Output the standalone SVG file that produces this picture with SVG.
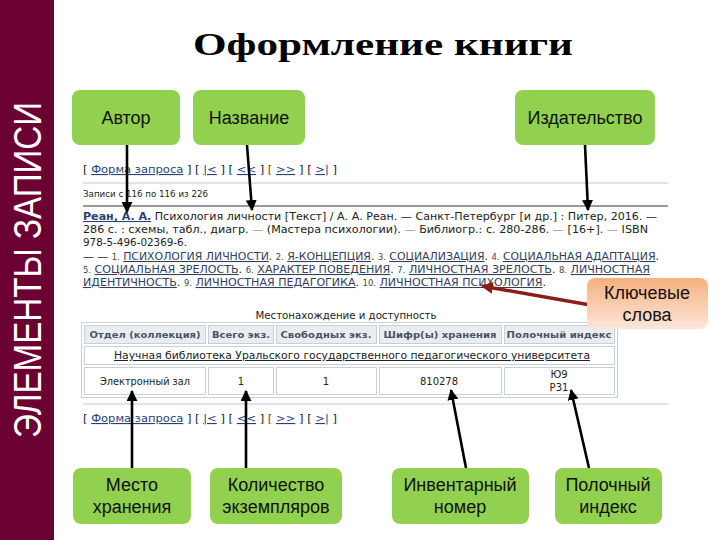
<svg xmlns="http://www.w3.org/2000/svg" width="720" height="540" viewBox="0 0 720 540">
<defs>
<style>
.box{fill:#92d050;}
.bt{font-family:"Liberation Sans",Arial,sans-serif;font-size:18px;fill:#111;text-anchor:middle;}
.sc{font-family:"DejaVu Sans",Verdana,sans-serif;fill:#222;}
.lk{fill:#2b3f78;text-decoration:underline;}
.sl{fill:#333d5c;text-decoration:underline;}
.num{font-size:8px;fill:#444;}
.hd{font-family:"DejaVu Sans",Verdana,sans-serif;font-weight:bold;font-size:9.5px;fill:#4a5363;text-anchor:middle;}
.hc{fill:#e9edf1;stroke:#c9cfd6;stroke-width:1;}
.cc{fill:#fff;stroke:#c9cfd6;stroke-width:1;}
.ct{font-family:"DejaVu Sans",Verdana,sans-serif;font-size:10px;fill:#222;text-anchor:middle;}
.con{stroke:#000;stroke-width:2.6;fill:none;}
</style>
<marker id="ah" viewBox="0 0 10 10" refX="9" refY="5" markerWidth="11" markerHeight="11" markerUnits="userSpaceOnUse" orient="auto"><path d="M0,0 L10,5 L0,10 z" fill="#000"/></marker>
<marker id="ahr" viewBox="0 0 10 10" refX="9" refY="5" markerWidth="12" markerHeight="12" markerUnits="userSpaceOnUse" orient="auto"><path d="M0,0 L10,5 L0,10 z" fill="#8b1c1c"/></marker>
<linearGradient id="og" x1="0" y1="0" x2="0" y2="1"><stop offset="0" stop-color="#f7b07e"/><stop offset="1" stop-color="#fde6da"/></linearGradient>
</defs>
<rect x="0" y="0" width="720" height="540" fill="#fff"/>
<g id="sidebar">
<rect x="0" y="0" width="54" height="540" fill="#6b0033"/>
<text transform="translate(41,270) rotate(-90)" font-family="Liberation Sans,Arial,sans-serif" font-size="38" fill="#fff" text-anchor="middle" textLength="336" lengthAdjust="spacingAndGlyphs">ЭЛЕМЕНТЫ ЗАПИСИ</text>
</g>
<g id="title"><text x="383" y="55" font-family="Liberation Serif,serif" font-weight="bold" font-size="32" fill="#000" text-anchor="middle" textLength="380" lengthAdjust="spacingAndGlyphs">Оформление книги</text></g>
<g id="screenshot">
<text class="sc" x="83" y="173" font-size="11" textLength="254" lengthAdjust="spacingAndGlyphs">[ <tspan class="lk">Форма запроса</tspan> ] [ <tspan class="lk">|&lt;</tspan> ] [ <tspan class="lk">&lt;&lt;</tspan> ] <tspan fill="#a03020">[</tspan> <tspan class="lk">&gt;&gt;</tspan> ] [ <tspan class="lk">&gt;|</tspan> ]</text>
<line x1="83" y1="183" x2="668" y2="183" stroke="#c8c8c8" stroke-width="1"/>
<text class="sc" x="83" y="197" font-size="8.5" fill="#555" textLength="125" lengthAdjust="spacingAndGlyphs">Записи с 116 по 116 из 226</text>
<line x1="83" y1="206" x2="668" y2="206" stroke="#9a9a9a" stroke-width="2"/>
<text class="sc" x="83" y="220" font-size="10.5" textLength="574" lengthAdjust="spacingAndGlyphs"><tspan class="lk" font-weight="bold">Реан, А. А.</tspan> Психология личности [Текст] / А. А. Реан. — Санкт-Петербург [и др.] : Питер, 2016. —</text>
<text class="sc" x="83" y="233" font-size="10.5" textLength="565" lengthAdjust="spacingAndGlyphs">286 с. : схемы, табл., диагр. <tspan fill="#999">—</tspan> (Мастера психологии). <tspan fill="#999">—</tspan> Библиогр.: с. 280-286. <tspan fill="#999">—</tspan> [16+]. <tspan fill="#999">—</tspan> ISBN</text>
<text class="sc" x="83" y="246" font-size="10.5" textLength="104" lengthAdjust="spacingAndGlyphs">978-5-496-02369-6.</text>
<text class="sc" x="83" y="260" font-size="10.5" textLength="576" lengthAdjust="spacingAndGlyphs">— — <tspan class="num">1.</tspan> <tspan class="sl">ПСИХОЛОГИЯ ЛИЧНОСТИ</tspan>. <tspan class="num">2.</tspan> <tspan class="sl">Я-КОНЦЕПЦИЯ</tspan>. <tspan class="num">3.</tspan> <tspan class="sl">СОЦИАЛИЗАЦИЯ</tspan>. <tspan class="num">4.</tspan> <tspan class="sl">СОЦИАЛЬНАЯ АДАПТАЦИЯ</tspan>.</text>
<text class="sc" x="83" y="273" font-size="10.5" textLength="567" lengthAdjust="spacingAndGlyphs"><tspan class="num">5.</tspan> <tspan class="sl">СОЦИАЛЬНАЯ ЗРЕЛОСТЬ</tspan>. <tspan class="num">6.</tspan> <tspan class="sl">ХАРАКТЕР ПОВЕДЕНИЯ</tspan>. <tspan class="num">7.</tspan> <tspan class="sl">ЛИЧНОСТНАЯ ЗРЕЛОСТЬ</tspan>. <tspan class="num">8.</tspan> <tspan class="sl">ЛИЧНОСТНАЯ</tspan></text>
<text class="sc" x="83" y="286" font-size="10.5" textLength="463" lengthAdjust="spacingAndGlyphs"><tspan class="sl">ИДЕНТИЧНОСТЬ</tspan>. <tspan class="num">9.</tspan> <tspan class="sl">ЛИЧНОСТНАЯ ПЕДАГОГИКА</tspan>. <tspan class="num">10.</tspan> <tspan class="sl">ЛИЧНОСТНАЯ ПСИХОЛОГИЯ</tspan>.</text>
<text class="sc" x="346" y="319" font-size="10" text-anchor="middle" textLength="181" lengthAdjust="spacingAndGlyphs">Местонахождение и доступность</text>
<rect x="81.5" y="322.5" width="536" height="75" fill="#fff" stroke="#c9cfd6"/>
<rect class="hc" x="84.5" y="325.5" width="121" height="18"/>
<rect class="hc" x="208.5" y="325.5" width="65" height="18"/>
<rect class="hc" x="276.5" y="325.5" width="100" height="18"/>
<rect class="hc" x="379.5" y="325.5" width="122" height="18"/>
<rect class="hc" x="504.5" y="325.5" width="110" height="18"/>
<text class="hd" x="145" y="338" textLength="111" lengthAdjust="spacingAndGlyphs">Отдел (коллекция)</text>
<text class="hd" x="241" y="338" textLength="58" lengthAdjust="spacingAndGlyphs">Всего экз.</text>
<text class="hd" x="326" y="338" textLength="91" lengthAdjust="spacingAndGlyphs">Свободных экз.</text>
<text class="hd" x="440" y="338" textLength="113" lengthAdjust="spacingAndGlyphs">Шифр(ы) хранения</text>
<text class="hd" x="559" y="338" textLength="105" lengthAdjust="spacingAndGlyphs">Полочный индекс</text>
<rect class="cc" x="84.5" y="346.5" width="530" height="18"/>
<text class="ct" x="352" y="359" fill="#444" text-decoration="underline" textLength="476" lengthAdjust="spacingAndGlyphs">Научная библиотека Уральского государственного педагогического университета</text>
<rect class="cc" x="84.5" y="367.5" width="121" height="27"/>
<rect class="cc" x="208.5" y="367.5" width="65" height="27"/>
<rect class="cc" x="276.5" y="367.5" width="100" height="27"/>
<rect class="cc" x="379.5" y="367.5" width="122" height="27"/>
<rect class="cc" x="504.5" y="367.5" width="110" height="27"/>
<text class="ct" x="145" y="385" textLength="90" lengthAdjust="spacingAndGlyphs">Электронный зал</text>
<text class="ct" x="241" y="385">1</text>
<text class="ct" x="326" y="385">1</text>
<text class="ct" x="439" y="385">810278</text>
<text class="ct" x="559" y="378">Ю9</text>
<text class="ct" x="559" y="391">Р31</text>
<line x1="83" y1="404" x2="668" y2="404" stroke="#c8c8c8" stroke-width="1"/>
<text class="sc" x="83" y="422" font-size="11" textLength="254" lengthAdjust="spacingAndGlyphs">[ <tspan class="lk">Форма запроса</tspan> ] [ <tspan class="lk">|&lt;</tspan> ] [ <tspan class="lk">&lt;&lt;</tspan> ] <tspan fill="#a03020">[</tspan> <tspan class="lk">&gt;&gt;</tspan> ] [ <tspan class="lk">&gt;|</tspan> ]</text>
</g>
<g id="connectors">
<line class="con" x1="127" y1="145" x2="127" y2="212" marker-end="url(#ah)"/>
<line class="con" x1="247" y1="145" x2="252" y2="210" marker-end="url(#ah)"/>
<line class="con" x1="585" y1="145" x2="588" y2="210" marker-end="url(#ah)"/>
<line x1="596" y1="306" x2="482" y2="286" stroke="#8b1c1c" stroke-width="3.5" marker-end="url(#ahr)"/>
<line class="con" x1="132" y1="468" x2="132" y2="391" marker-end="url(#ah)"/>
<line class="con" x1="246" y1="468" x2="246" y2="391" marker-end="url(#ah)"/>
<line class="con" x1="466" y1="468" x2="451" y2="390" marker-end="url(#ah)"/>
<line class="con" x1="589" y1="468" x2="571" y2="390" marker-end="url(#ah)"/>
</g>
<g id="n-avtor"><rect class="box" x="72" y="90" width="108" height="55" rx="8"/><text class="bt" x="126" y="124">Автор</text></g>
<g id="n-nazvanie"><rect class="box" x="193" y="90" width="112" height="55" rx="8"/><text class="bt" x="249" y="124">Название</text></g>
<g id="n-izdatelstvo"><rect class="box" x="515" y="90" width="140" height="55" rx="8"/><text class="bt" x="585" y="124">Издательство</text></g>
<g id="n-keywords"><rect x="587" y="278" width="121" height="51" rx="8" fill="url(#og)"/><text class="bt" x="647" y="299">Ключевые</text><text class="bt" x="647" y="321">слова</text></g>
<g id="n-mesto"><rect class="box" x="73" y="468" width="118" height="56" rx="8"/><text class="bt" x="132" y="491">Место</text><text class="bt" x="132" y="513">хранения</text></g>
<g id="n-kolichestvo"><rect class="box" x="210" y="468" width="132" height="56" rx="8"/><text class="bt" x="276" y="491">Количество</text><text class="bt" x="276" y="513">экземпляров</text></g>
<g id="n-inventarny"><rect class="box" x="392" y="468" width="137" height="56" rx="8"/><text class="bt" x="460" y="491">Инвентарный</text><text class="bt" x="460" y="513">номер</text></g>
<g id="n-polochny"><rect class="box" x="555" y="468" width="107" height="56" rx="8"/><text class="bt" x="608" y="491">Полочный</text><text class="bt" x="608" y="513">индекс</text></g>
</svg>
